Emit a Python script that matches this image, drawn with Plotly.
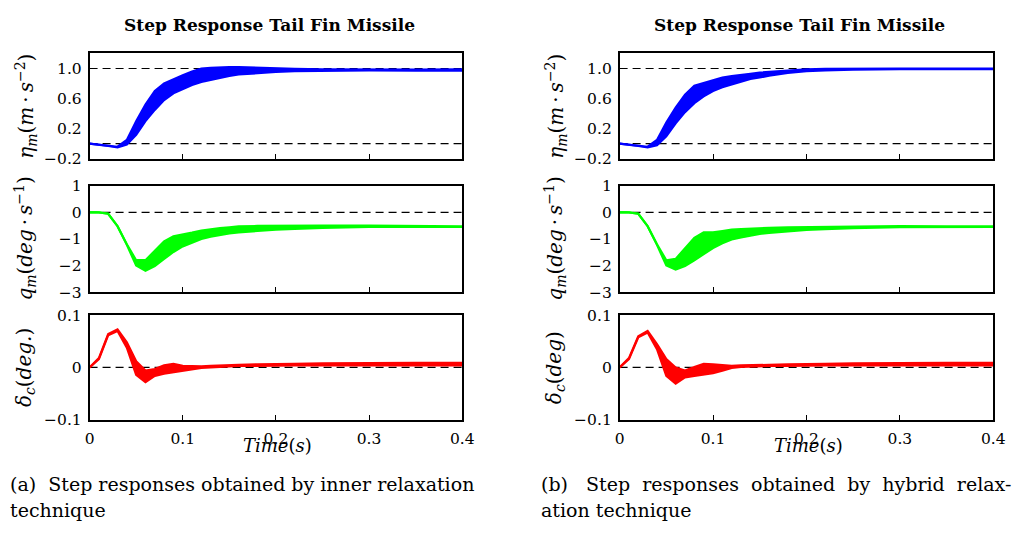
import plotly.graph_objects as go

# ---------------- data ----------------
time = [0.00, 0.01, 0.02, 0.03, 0.04, 0.05, 0.06, 0.07, 0.08, 0.09, 0.10, 0.11,
        0.12, 0.13, 0.14, 0.15, 0.16, 0.18, 0.20, 0.22, 0.25, 0.30, 0.35, 0.40]

# (a) inner relaxation
eta_a_upper = [0, -0.01, -0.02, -0.04, 0.05, 0.30, 0.52, 0.70, 0.80, 0.86, 0.91, 0.96,
               1.00, 1.01, 1.02, 1.02, 1.02, 1.01, 1.00, 0.995, 0.99, 0.985, 0.985, 0.99]
eta_a_lower = [0, -0.01, -0.03, -0.05, -0.01, 0.12, 0.30, 0.45, 0.58, 0.67, 0.73, 0.78,
               0.82, 0.85, 0.88, 0.90, 0.92, 0.94, 0.955, 0.965, 0.97, 0.975, 0.97, 0.97]
q_a_upper = [0, 0, -0.05, -0.52, -1.20, -1.80, -1.80, -1.44, -1.09, -0.90, -0.84, -0.76,
             -0.68, -0.63, -0.59, -0.56, -0.53, -0.51, -0.50, -0.50, -0.50, -0.50, -0.52, -0.53]
q_a_lower = [0, 0, -0.05, -0.52, -1.22, -2.00, -2.20, -2.02, -1.75, -1.49, -1.28, -1.13,
             -1.00, -0.91, -0.84, -0.79, -0.75, -0.69, -0.65, -0.62, -0.58, -0.55, -0.54, -0.55]
dc_a_upper = [0, 0.018, 0.064, 0.073, 0.048, 0.012, -0.006, -0.003, 0.004, 0.007, 0.003, 0.002,
              0.002, 0.003, 0.004, 0.005, 0.005, 0.006, 0.007, 0.007, 0.008, 0.009, 0.009, 0.009]
dc_a_lower = [0, 0.016, 0.062, 0.070, 0.038, -0.014, -0.028, -0.016, -0.012, -0.009, -0.006, -0.003,
              -0.001, 0.000, 0.001, 0.002, 0.003, 0.003, 0.004, 0.004, 0.004, 0.004, 0.004, 0.004]

# (b) hybrid relaxation
eta_b_upper = [0, -0.01, -0.02, -0.04, 0.05, 0.28, 0.48, 0.65, 0.77, 0.81, 0.85, 0.88,
               0.90, 0.92, 0.93, 0.945, 0.955, 0.975, 0.99, 0.995, 1.0, 1.0, 1.0, 1.0]
eta_b_lower = [0, -0.01, -0.03, -0.05, -0.02, 0.10, 0.27, 0.42, 0.54, 0.63, 0.70, 0.75,
               0.79, 0.83, 0.86, 0.88, 0.905, 0.94, 0.965, 0.975, 0.985, 0.99, 0.99, 0.99]
q_b_upper = [0, 0, -0.05, -0.52, -1.20, -1.80, -1.75, -1.34, -0.96, -0.75, -0.75, -0.70,
             -0.65, -0.63, -0.61, -0.59, -0.58, -0.56, -0.55, -0.54, -0.53, -0.52, -0.53, -0.53]
q_b_lower = [0, 0, -0.05, -0.52, -1.22, -2.00, -2.15, -2.02, -1.80, -1.56, -1.34, -1.16,
             -1.02, -0.94, -0.87, -0.81, -0.77, -0.71, -0.66, -0.63, -0.59, -0.56, -0.55, -0.55]
dc_b_upper = [0, 0.018, 0.060, 0.070, 0.045, 0.016, 0.000, -0.006, 0.001, 0.007, 0.006, 0.004,
              0.003, 0.004, 0.004, 0.005, 0.005, 0.006, 0.007, 0.007, 0.008, 0.009, 0.009, 0.009]
dc_b_lower = [0, 0.016, 0.058, 0.067, 0.035, -0.016, -0.031, -0.019, -0.016, -0.014, -0.011, -0.006,
              -0.001, 0.001, 0.002, 0.002, 0.003, 0.003, 0.004, 0.004, 0.004, 0.004, 0.004, 0.004]

eta_refs = [1.0, 0.0]
q_refs = [0.0]
dc_refs = [0.0]

x_ticks = [0, 0.1, 0.2, 0.3, 0.4]
x_ticktext = ["0", "0.1", "0.2", "0.3", "0.4"]
eta_ticks = [-0.2, 0.2, 0.6, 1.0]
eta_ticktext = ["\u22120.2", "0.2", "0.6", "1.0"]
q_ticks = [-3, -2, -1, 0, 1]
q_ticktext = ["\u22123", "\u22122", "\u22121", "0", "1"]
dc_ticks = [-0.1, 0, 0.1]
dc_ticktext = ["\u22120.1", "0", "0.1"]

title_text = "Step Response Tail Fin Missile"
caption_a = ["(a)\u00a0 Step responses obtained by inner relaxation", "technique"]
caption_b = ["(b)\u00a0\u00a0 Step\u00a0 responses\u00a0 obtained\u00a0 by\u00a0 hybrid\u00a0 relax-", "ation technique"]

# ---------------- layout helpers ----------------
W, H = 1022, 533
FONT = "DejaVu Serif"


def px_x(p):
    return p / W


def px_y(p):
    return 1 - p / H


col_x = [(86, 465), (625, 1005)]
row_y = [(46, 155), (183, 293), (317, 425)]

fig = go.Figure()

columns = [
    dict(bands=[(eta_a_upper, eta_a_lower), (q_a_upper, q_a_lower), (dc_a_upper, dc_a_lower)],
         dlabel="<i>\u03b4</i><sub><i>c</i></sub>(<i>deg.</i>)", caption=caption_a),
    dict(bands=[(eta_b_upper, eta_b_lower), (q_b_upper, q_b_lower), (dc_b_upper, dc_b_lower)],
         dlabel="<i>\u03b4</i><sub><i>c</i></sub>(<i>deg</i>)", caption=caption_b),
]
colors = ["#0000ff", "#00ff00", "#ff0000"]
ranges = [[-0.2, 1.2], [-3, 1], [-0.1, 0.1]]
tickinfo = [(eta_ticks, eta_ticktext), (q_ticks, q_ticktext), (dc_ticks, dc_ticktext)]
refs = [eta_refs, q_refs, dc_refs]

layout = dict(
    width=W, height=H, margin=dict(l=0, r=0, t=0, b=0),
    paper_bgcolor="white", plot_bgcolor="white", showlegend=False,
    font=dict(family=FONT, size=15, color="black"),
)
annotations = []

ax_idx = 0
for c, col in enumerate(columns):
    x0, x1 = col_x[c]
    for r in range(3):
        ax_idx += 1
        xa = "x" if ax_idx == 1 else f"x{ax_idx}"
        ya = "y" if ax_idx == 1 else f"y{ax_idx}"
        xkey = "xaxis" if ax_idx == 1 else f"xaxis{ax_idx}"
        ykey = "yaxis" if ax_idx == 1 else f"yaxis{ax_idx}"
        y0, y1 = row_y[r]
        upper, lower = col["bands"][r]
        color = colors[r]
        for lv in refs[r]:
            fig.add_trace(go.Scatter(x=[time[0], time[-1]], y=[lv, lv], mode="lines",
                                     line=dict(color="black", width=1.2, dash="8px,5px"),
                                     xaxis=xa, yaxis=ya, hoverinfo="skip"))
        fig.add_trace(go.Scatter(x=time, y=lower, mode="lines",
                                 line=dict(color=color, width=2.2),
                                 xaxis=xa, yaxis=ya))
        fig.add_trace(go.Scatter(x=time, y=upper, mode="lines", fill="tonexty",
                                 fillcolor=color, line=dict(color=color, width=2.2),
                                 xaxis=xa, yaxis=ya))
        layout[xkey] = dict(
            domain=[px_x(x0), px_x(x1)], anchor=ya, range=[0, 0.4],
            showline=True, mirror=True, linecolor="black", linewidth=1.5,
            showgrid=False, zeroline=False, ticks="inside", ticklen=5,
            tickcolor="black", tickvals=x_ticks, ticktext=x_ticktext,
            showticklabels=(r == 2), tickfont=dict(family=FONT, size=15.5),
            ticklabelstandoff=4,
        )
        layout[ykey] = dict(
            domain=[px_y(y1), px_y(y0)], anchor=xa, range=ranges[r],
            showline=True, mirror=True, linecolor="black", linewidth=1.5,
            showgrid=False, zeroline=False, ticks="",
            tickvals=tickinfo[r][0], ticktext=tickinfo[r][1],
            tickfont=dict(family=FONT, size=15.5), ticklabelstandoff=3,
        )
    ylabels = [
        "<i>\u03b7</i><sub><i>m</i></sub>(<i>m</i>\u2009\u00b7\u2009<i>s</i><sup>\u22122</sup>)",
        "<i>q</i><sub><i>m</i></sub>(<i>deg</i>\u2009\u00b7\u2009<i>s</i><sup>\u22121</sup>)",
        col["dlabel"],
    ]
    for r in range(3):
        y0, y1 = row_y[r]
        annotations.append(dict(
            text=ylabels[r], textangle=-90, x=px_x(x0 - 65), y=px_y((y0 + y1) / 2),
            xref="paper", yref="paper", showarrow=False, xanchor="center", yanchor="middle",
            font=dict(family=FONT, size=20),
        ))
    annotations.append(dict(
        text=f"<b>{title_text}</b>", x=px_x((x0 + x1) / 2 - 7), y=px_y(17),
        xref="paper", yref="paper", showarrow=False, xanchor="center", yanchor="middle",
        font=dict(family=FONT, size=17),
    ))
    annotations.append(dict(
        text="<i>Time</i>(<i>s</i>)", x=px_x((x0 + x1) / 2 + 2), y=px_y(452),
        xref="paper", yref="paper", showarrow=False, xanchor="center", yanchor="middle",
        font=dict(family=FONT, size=18),
    ))
    cx = 3 if c == 0 else 543
    for i, line in enumerate(col["caption"]):
        annotations.append(dict(
            text=line, x=px_x(cx), y=px_y(492 + 26 * i),
            xref="paper", yref="paper", showarrow=False, xanchor="left", yanchor="middle",
            font=dict(family=FONT, size=19),
        ))

layout["annotations"] = annotations
fig.update_layout(**layout)
fig.write_html("out.html")
